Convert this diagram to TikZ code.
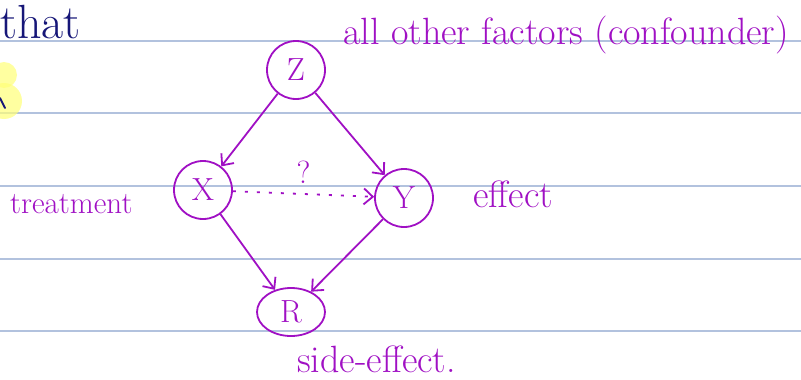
\documentclass[tikz,border=0pt]{standalone}
\usepackage{tikz}
\usetikzlibrary{arrows.meta,shapes.geometric}
\definecolor{ink}{RGB}{160,16,196}
\definecolor{navy}{RGB}{22,22,120}
\definecolor{rule}{RGB}{178,194,222}
\definecolor{marker}{RGB}{255,255,120}

\begin{document}
\begin{tikzpicture}[x=1pt,y=-1pt,
  pen/.style={draw=ink,line width=1.8pt},
  var/.style={pen,circle,minimum size=58pt,inner sep=0pt,text=ink,font=\fontsize{32}{32}\selectfont},
  note/.style={text=ink,inner sep=0pt,anchor=base west,font=\fontsize{38}{38}\selectfont},
  arr/.style={pen,-{Straight Barb[length=9pt,width=16pt]}}]
\useasboundingbox (0,0) rectangle (801,380);
\fill[white] (0,0) rectangle (801,380);
% ruled paper
\foreach \y in {41,113,186,259,331}
  \draw[rule,line width=1.2pt] (0,\y) -- (801,\y);
% left margin leftovers
\begin{scope}
\clip (0,0) rectangle (801,380);
\fill[marker,opacity=0.7] (4,75) circle (13pt);
\fill[marker,opacity=0.7] (4,101) circle (18pt);
\draw[navy,line width=1.8pt,line cap=round] (0,98) -- (5,108);
\end{scope}
\node[text=navy,inner sep=0pt,anchor=base west,font=\fontsize{48}{48}\selectfont] (that) at (0,38) {that};
% variables
\node[var] (z) at (296,70) {Z};
\node[var] (x) at (203,190) {X};
\node[var] (y) at (404,198) {Y};
\node[pen,ellipse,minimum width=68pt,minimum height=48pt,inner sep=0pt,text=ink,font=\fontsize{32}{32}\selectfont] (r) at (291,312) {R};
% arrows
\draw[arr] (z) -- (x);
\draw[arr] (z) -- (y);
\draw[arr] (x) -- (r);
\draw[arr] (y) -- (r);
\draw[arr,dash pattern=on 3pt off 9pt] (x) -- (y) node[midway,above=6pt,text=ink,font=\fontsize{32}{32}\selectfont] (q) {?};
% labels
\node[note] (conf) at (343,45) {all other factors (confounder)};
\node[note,font=\fontsize{31}{31}\selectfont] (treat) at (10,213) {treatment};
\node[note] (eff) at (473,207) {effect};
\node[note] (side) at (297,372) {side-effect.};
\end{tikzpicture}
\end{document}
